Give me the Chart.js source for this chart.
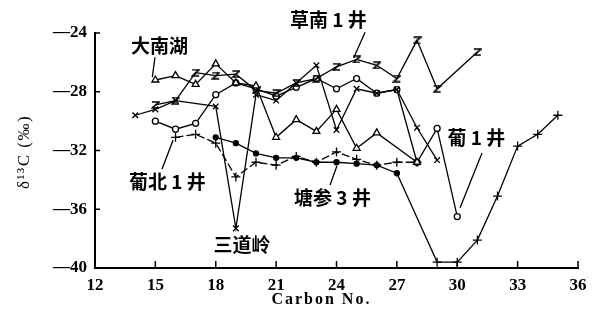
<!DOCTYPE html>
<html><head><meta charset="utf-8">
<script src="https://cdn.jsdelivr.net/npm/chart.js@4/dist/chart.umd.min.js"></script>
<style>html,body{margin:0;padding:0;background:#fff}</style>
</head><body>
<canvas id="c" width="607" height="325" style="width:607px;height:325px;display:block"></canvas>
<script>
// ---- data (carbon numbers and δ13C values, ‰) ----
const carbon = [14,15,16,17,18,19,20,21,22,23,24,25,26,27,28,29,30,31,32,33,34,35];
const daNanHu   = [null,-27.2,-26.9,-27.5,-26.1,-27.4,-27.6,-31.1,-29.9,-30.7,-29.2,-31.85,-30.8,null,-32.8,null,null,null,null,null,null,null];
const caoNan1   = [null,-28.9,-28.6,-26.7,-26.9,-26.8,-27.9,-28.1,-27.4,-27.1,-26.3,-25.8,-26.2,-27.1,-24.5,-27.8,null,-25.3,null,null,null,null];
const sanDaoLing= [-29.6,-29.2,-28.6,null,-29.0,-37.3,-28.2,-28.6,-27.4,-26.2,-30.6,-27.8,-28.1,-27.85,-30.45,-32.65,null,null,null,null,null,null];
const pu1       = [null,-30.0,-30.55,-30.15,-28.2,-27.4,-27.8,-28.3,-27.7,-27.1,-27.8,-27.1,-28.1,-27.85,-32.8,-30.5,-36.5,null,null,null,null,null];
const puBei1    = [null,null,-31.1,-30.9,-31.5,-33.8,-32.8,-33.0,-32.4,-32.8,-32.1,-32.6,-33.0,-32.8,-32.8,null,null,null,null,null,null,null];
const tangShen3 = [null,null,null,null,-31.1,-31.5,-32.2,-32.5,-32.5,-32.8,-32.8,-32.9,-33.0,-33.55,null,-39.6,-39.6,-38.1,-35.1,-31.7,-30.9,-29.6];
const seriesNames = ['大南湖','草南 1 井','三道岭','葡 1 井','葡北 1 井','塘参 3 井'];
const xTickValues = [12,15,18,21,24,27,30,33,36];
const xTickLabels = ['12','15','18','21','24','27','30','33','36'];
const yTickValues = [-40,-36,-32,-28,-24];
const yTickLabels = ['—40','—36','—32','—28','—24'];
const xTitle = 'Carbon No.';
const yTitle = 'δ¹³C (‰)';

// label anchors in data coordinates (text centre, leader start, leader end)
const notes = [
  {name: seriesNames[0], at:[15.2,-24.9], lead:[[14.98,-25.65],[14.85,-27.0]]},
  {name: seriesNames[1], at:[23.6,-23.1], lead:[[25.42,-23.95],[24.85,-25.7]]},
  {name: seriesNames[2], at:[19.3,-38.45], lead:null},
  {name: seriesNames[3], at:[30.95,-31.1], lead:[[31.23,-32.17],[30.14,-35.9]]},
  {name: seriesNames[4], at:[15.6,-34.15], lead:[[15.33,-33.26],[15.88,-31.3]]},
  {name: seriesNames[5], at:[23.8,-35.2], lead:[[23.68,-34.35],[24.02,-33.05]]}
];
const xTitleAt = 23.25;   // data x of the x-axis title centre
const yTitleAt = -32.1;   // data y of the y-axis title centre

function pts(arr){ return carbon.map((c,i)=>({x:c,y:arr[i]})); }

// "z"-shaped marker
const zMark = document.createElement('canvas');
zMark.width = 9; zMark.height = 8;
(function(){const g=zMark.getContext('2d');g.strokeStyle='#000';g.lineWidth=1.6;
 g.beginPath();g.moveTo(1,1);g.lineTo(8,1);g.lineTo(1.5,7);g.lineTo(8,7);g.stroke();})();

const base = {borderColor:'#000', borderWidth:1.3, tension:0, spanGaps:true, pointBorderColor:'#000', pointBorderWidth:1.3, fill:false};

const datasets = [
  Object.assign({}, base, {label:seriesNames[0], data:pts(daNanHu), pointStyle:'triangle', pointRadius:4, pointBackgroundColor:'#fff'}),
  Object.assign({}, base, {label:seriesNames[1], data:pts(caoNan1), pointStyle:zMark, pointRadius:4}),
  Object.assign({}, base, {label:seriesNames[2], data:pts(sanDaoLing), pointStyle:'crossRot', pointRadius:4}),
  Object.assign({}, base, {label:seriesNames[3], data:pts(pu1), pointStyle:'circle', pointRadius:3, pointBackgroundColor:'#fff'}),
  Object.assign({}, base, {label:seriesNames[4], data:pts(puBei1), pointStyle:'cross', pointRadius:4.5, borderDash:[8,3]}),
  Object.assign({}, base, {label:seriesNames[5], data:pts(tangShen3),
     pointStyle: ctx => (ctx.raw && ctx.raw.x > 28) ? 'cross' : 'circle',
     pointRadius: ctx => (ctx.raw && ctx.raw.x > 28) ? 4.5 : 2.5,
     pointBackgroundColor:'#000'})
];

const decor = {
  id:'decor',
  afterDraw(chart){
    const g = chart.ctx, xs = chart.scales.x, ys = chart.scales.y;
    g.save();
    g.strokeStyle='#000'; g.lineWidth=1.5;
    xTickValues.forEach(v=>{ const p=xs.getPixelForValue(v); if(v===12) return;
      g.beginPath(); g.moveTo(p, ys.bottom); g.lineTo(p, ys.bottom-7); g.stroke(); });
    yTickValues.forEach(v=>{ const p=ys.getPixelForValue(v); if(v===-40) return;
      g.beginPath(); g.moveTo(xs.left, p); g.lineTo(xs.left+5, p); g.stroke(); });
    g.fillStyle='#000'; g.textAlign='center'; g.textBaseline='middle';
    g.font='bold 19px "Noto Sans CJK SC"';
    g.lineWidth=1.3;
    notes.forEach(n=>{
      g.fillText(n.name, xs.getPixelForValue(n.at[0]), ys.getPixelForValue(n.at[1]));
      if(n.lead){ g.beginPath();
        g.moveTo(xs.getPixelForValue(n.lead[0][0]), ys.getPixelForValue(n.lead[0][1]));
        g.lineTo(xs.getPixelForValue(n.lead[1][0]), ys.getPixelForValue(n.lead[1][1]));
        g.stroke(); }
    });
    // axis titles
    g.font='bold 16px "Liberation Serif"';
    if ('letterSpacing' in g) g.letterSpacing='2px';
    g.fillText(xTitle, xs.getPixelForValue(xTitleAt), 300);
    g.translate(25, ys.getPixelForValue(yTitleAt));
    g.rotate(-Math.PI/2);
    g.font='17px "Liberation Serif"';
    if ('letterSpacing' in g) g.letterSpacing='1.5px';
    g.fillText(yTitle, 0, 0);
    g.restore();
  }
};

new Chart(document.getElementById('c'), {
  type:'line',
  data:{datasets},
  options:{
    responsive:false, animation:false, devicePixelRatio:1,
    layout:{padding:{left:0,right:29,top:33,bottom:0}},
    plugins:{legend:{display:false}, tooltip:{enabled:false}},
    scales:{
      x:{type:'linear', min:12, max:36,
        afterBuildTicks: s => { s.ticks = xTickValues.map(v=>({value:v})); },
        afterFit: s => { s.height = 57; },
        ticks:{callback:(v)=>xTickLabels[xTickValues.indexOf(v)], color:'#000', padding:7, maxRotation:0,
          font:{family:'"Liberation Serif"', size:17, weight:'bold'}},
        grid:{display:false, drawTicks:false}, border:{display:true, color:'#000', width:2}
      },
      y:{type:'linear', min:-40, max:-24,
        afterBuildTicks: s => { s.ticks = yTickValues.map(v=>({value:v})); },
        afterFit: s => { s.width = 95; },
        ticks:{callback:(v)=>yTickLabels[yTickValues.indexOf(v)], color:'#000', padding:8,
          font:{family:'"Liberation Serif"', size:17, weight:'bold'}},
        grid:{display:false, drawTicks:false}, border:{display:true, color:'#000', width:2}
      }
    }
  },
  plugins:[decor]
});
</script>
</body></html>
